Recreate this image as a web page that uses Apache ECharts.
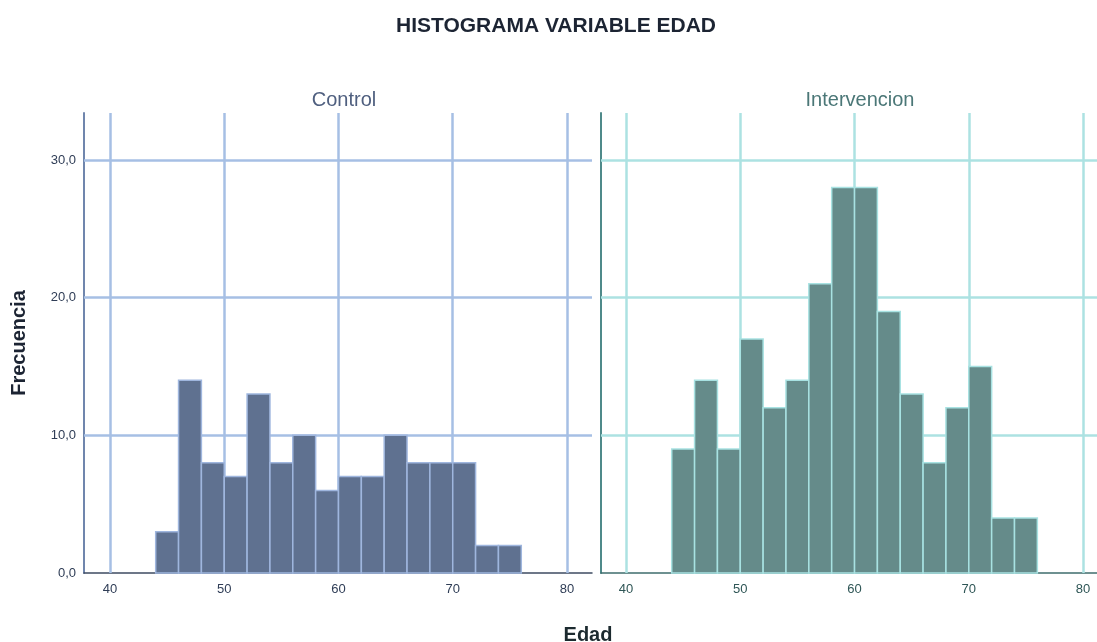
<!DOCTYPE html>
<html>
<head>
<meta charset="utf-8">
<script src="https://cdn.jsdelivr.net/npm/echarts@6/dist/echarts.min.js"></script>
<style>
html,body{margin:0;padding:0;background:#fff;}
#chart{width:1097px;height:642px;}
</style>
</head>
<body>
<div id="chart"></div>
<script>
// ---- data ----
var binStarts = [44,46,48,50,52,54,56,58,60,62,64,66,68,70,72,74];
var binWidth = 2;
var controlCounts = [3,14,8,7,13,8,10,6,7,7,10,8,8,8,2,2];
var intervencionCounts = [9,14,9,17,12,14,21,28,28,19,13,8,12,15,4,4];
var xTicks = [40,50,60,70,80];
var yTicks = [0,10,20,30];
var panelNames = ['Control','Intervencion'];

var FONT = 'Liberation Sans, Arial, sans-serif';

function makeData(counts){
  return binStarts.map(function(s,i){ return [s, counts[i]]; });
}

function barRenderer(fill, stroke){
  return function(params, api){
    var s = api.value(0), c = api.value(1);
    var p0 = api.coord([s, 0]);
    var p1 = api.coord([s + binWidth, c]);
    return {
      type:'rect',
      shape:{x:p0[0], y:p1[1], width:p1[0]-p0[0], height:p0[1]-p1[1]},
      style:{fill:fill, stroke:stroke, lineWidth:1.5}
    };
  };
}

function gridMarks(color){
  var d = [];
  xTicks.forEach(function(v){ d.push({xAxis:v}); });
  yTicks.slice(1).forEach(function(v){ d.push({yAxis:v}); });
  return {
    silent:true, symbol:'none', z:1,
    label:{show:false},
    lineStyle:{color:color, width:2.5, type:'solid'},
    emphasis:{disabled:true},
    data:d
  };
}

var yMax = 33.41;
var xMinL = 37.724, xMaxL = 82.19;
var xMinR = 37.81, xMaxR = 81.22;

var option = {
  animation:false,
  backgroundColor:'#ffffff',
  title:[
    {text:'HISTOGRAMA VARIABLE EDAD', left:551, top:11, textAlign:'center',
     textStyle:{fontFamily:FONT, fontSize:21, fontWeight:'bold', color:'#1c2433'}},
    {text:panelNames[0], left:339, top:85, textAlign:'center',
     textStyle:{fontFamily:FONT, fontSize:20, fontWeight:'normal', color:'#4f5f7f'}},
    {text:panelNames[1], left:855, top:85, textAlign:'center',
     textStyle:{fontFamily:FONT, fontSize:20, fontWeight:'normal', color:'#4b7777'}},
    {text:'Edad', left:583, top:620, textAlign:'center',
     textStyle:{fontFamily:FONT, fontSize:20, fontWeight:'bold', color:'#1c2a2f'}}
  ],
  grid:[
    {left:84, top:113, width:508, height:460},
    {left:601, top:113, width:496, height:460}
  ],
  xAxis:[
    {type:'value', gridIndex:0, min:xMinL, max:xMaxL,
     axisLine:{show:true, onZero:false, lineStyle:{color:'#3e4b62', width:1.5}},
     axisTick:{show:false}, splitLine:{show:false},
     axisLabel:{customValues:xTicks, color:'#2f3d56', fontFamily:FONT, fontSize:13, margin:10}},
    {type:'value', gridIndex:1, min:xMinR, max:xMaxR,
     axisLine:{show:true, onZero:false, lineStyle:{color:'#3f6e6e', width:1.5}},
     axisTick:{show:false}, splitLine:{show:false},
     axisLabel:{customValues:xTicks, color:'#2f5656', fontFamily:FONT, fontSize:13, margin:10}}
  ],
  yAxis:[
    {type:'value', gridIndex:0, min:0, max:yMax,
     name:'Frecuencia', nameLocation:'middle', nameGap:55, nameRotate:90,
     nameTextStyle:{fontFamily:FONT, fontSize:20, fontWeight:'bold', color:'#1c2433'},
     axisLine:{show:true, onZero:false, lineStyle:{color:'#7086ad', width:2}},
     axisTick:{show:false}, splitLine:{show:false},
     axisLabel:{customValues:yTicks, color:'#2f3d56', fontFamily:FONT, fontSize:13, margin:8,
       formatter:function(v){ return v.toFixed(1).replace('.',','); }}},
    {type:'value', gridIndex:1, min:0, max:yMax,
     axisLine:{show:true, onZero:false, lineStyle:{color:'#4f8a8a', width:2}},
     axisTick:{show:false}, splitLine:{show:false},
     axisLabel:{show:false}}
  ],
  series:[
    {type:'custom', name:panelNames[0], xAxisIndex:0, yAxisIndex:0, z:2,
     renderItem:barRenderer('#5f7190', '#9fb6de'),
     data:makeData(controlCounts),
     markLine:gridMarks('#a6bfe4')},
    {type:'custom', name:panelNames[1], xAxisIndex:1, yAxisIndex:1, z:2,
     renderItem:barRenderer('#658b8a', '#a8e2e2'),
     data:makeData(intervencionCounts),
     markLine:gridMarks('#ace2e2')}
  ]
};

var chart = echarts.init(document.getElementById('chart'), null, {renderer:'canvas'});
chart.setOption(option);
</script>
</body>
</html>
